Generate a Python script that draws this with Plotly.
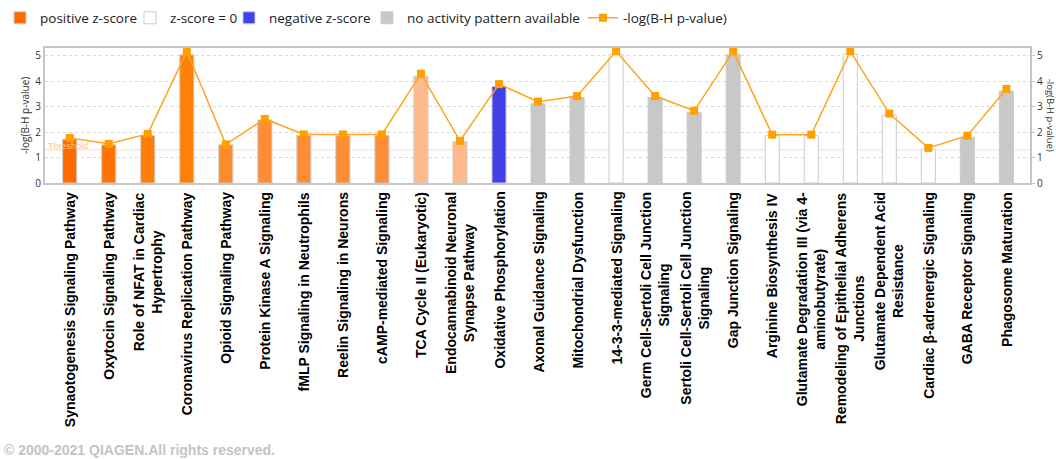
import plotly.graph_objects as go

# ---------------- data ----------------
pathways = [
    "Synaotogenesis Signaling Pathway",
    "Oxytocin Signaling Pathway",
    "Role of NFAT in Cardiac Hypertrophy",
    "Coronavirus Replication Pathway",
    "Opioid Signaling Pathway",
    "Protein Kinase A Signaling",
    "fMLP Signaling in Neutrophils",
    "Reelin Signaling in Neurons",
    "cAMP-mediated Signaling",
    "TCA Cycle II (Eukaryotic)",
    "Endocannabinoid Neuronal Synapse Pathway",
    "Oxidative Phosphorylation",
    "Axonal Guidance Signaling",
    "Mitochondrial Dysfunction",
    "14-3-3-mediated Signaling",
    "Germ Cell-Sertoli Cell Junction Signaling",
    "Sertoli Cell-Sertoli Cell Junction Signaling",
    "Gap Junction Signaling",
    "Arginine Biosynthesis IV",
    "Glutamate Degradation III (via 4-aminobutyrate)",
    "Remodeling of Epithelial Adherens Junctions",
    "Glutamate Dependent Acid Resistance",
    "Cardiac β-adrenergic Signaling",
    "GABA Receptor Signaling",
    "Phagosome Maturation",
]

tick_labels = [
    "Synaotogenesis Signaling Pathway",
    "Oxytocin Signaling Pathway",
    "Role of NFAT in Cardiac<br>Hypertrophy",
    "Coronavirus Replication Pathway",
    "Opioid Signaling Pathway",
    "Protein Kinase A Signaling",
    "fMLP Signaling in Neutrophils",
    "Reelin Signaling in Neurons",
    "cAMP-mediated Signaling",
    "TCA Cycle II (Eukaryotic)",
    "Endocannabinoid Neuronal<br>Synapse Pathway",
    "Oxidative Phosphorylation",
    "Axonal Guidance Signaling",
    "Mitochondrial Dysfunction",
    "14-3-3-mediated Signaling",
    "Germ Cell-Sertoli Cell Junction<br>Signaling",
    "Sertoli Cell-Sertoli Cell Junction<br>Signaling",
    "Gap Junction Signaling",
    "Arginine Biosynthesis IV",
    "Glutamate Degradation III (via 4-<br>aminobutyrate)",
    "Remodeling of Epithelial Adherens<br>Junctions",
    "Glutamate Dependent Acid<br>Resistance",
    "Cardiac β-adrenergic Signaling",
    "GABA Receptor Signaling",
    "Phagosome Maturation",
]

# bar heights: -log(B-H p-value)
bar_values = [1.72, 1.50, 1.87, 5.04, 1.50, 2.48, 1.87, 1.87, 1.87, 4.20, 1.62, 3.80,
              3.12, 3.36, 5.06, 3.36, 2.77, 5.06, 1.86, 1.86, 5.06, 2.67, 1.33, 1.80, 3.62]

# line markers: -log(B-H p-value)
line_values = [1.77, 1.54, 1.93, 5.18, 1.52, 2.52, 1.91, 1.91, 1.91, 4.30, 1.66, 3.89,
               3.20, 3.42, 5.18, 3.42, 2.84, 5.18, 1.90, 1.90, 5.18, 2.73, 1.38, 1.86, 3.70]

# activity category of each pathway
z_group = ["pos"] * 11 + ["neg"] + ["none", "none", "zero", "none", "none", "none",
                                     "zero", "zero", "zero", "zero", "zero", "none", "none"]

threshold = 1.3
y_ticks = [0, 1, 2, 3, 4, 5]

# ---------------- styles ----------------
pos_colors = ["#FF6A00", "#FF7300", "#FF7C08", "#FF7F08", "#FF8A2C", "#FF8C32",
              "#FF8C36", "#FF8C36", "#FF8C36", "#FFB98A", "#FFB98A"]
group_style = {
    "pos": ("positive z-score", pos_colors),
    "zero": ("z-score = 0", "#FFFFFF"),
    "neg": ("negative z-score", "#4141EC"),
    "none": ("no activity pattern available", "#C8C8C8"),
}
LINE_COLOR = "#FFA51F"
MARK_COLOR = "#FFA000"
LABEL_FONT = "Liberation Sans, Arial, sans-serif"
UI_FONT = "Open Sans, Noto Sans, sans-serif"

fig = go.Figure()

# legend x positions (container px) for separate legends
legend_x = [-9, 130, 229, 367, 583]
legend_names = ["legend", "legend2", "legend3", "legend4", "legend5"]

for i, g in enumerate(["pos", "zero", "neg", "none"]):
    name, col = group_style[g]
    xs = [p for p, gg in zip(pathways, z_group) if gg == g]
    ys = [v for v, gg in zip(bar_values, z_group) if gg == g]
    fig.add_trace(go.Bar(
        x=xs, y=ys, name=name,
        marker=dict(color=col, line=dict(color="#CBCBCB", width=1)),
        legend=legend_names[i],
        hoverinfo="x+y",
    ))

fig.add_trace(go.Scatter(
    x=pathways, y=line_values, name="-log(B-H p-value)",
    mode="lines+markers", yaxis="y2",
    line=dict(color=LINE_COLOR, width=1.5),
    marker=dict(symbol="square", size=8, color=MARK_COLOR),
    legend="legend5",
    cliponaxis=False,
))

# threshold reference line
fig.add_shape(type="line", xref="paper", x0=0, x1=1, yref="y", y0=threshold, y1=threshold,
              line=dict(color="rgba(255,170,110,0.45)", width=1), layer="below")
fig.add_annotation(text="Threshold", xref="paper", x=0, xanchor="left", xshift=1,
                   yref="y", y=threshold, yanchor="bottom", yshift=-3, showarrow=False,
                   font=dict(family=LABEL_FONT, size=9, color="#FFC48A"))

# category labels (rotated, centred multi-line)
for p, lab in zip(pathways, tick_labels):
    fig.add_annotation(text=lab, x=p, xref="x", y=0, yref="paper", yanchor="top",
                       xanchor="center", yshift=-7, textangle=-90, align="center",
                       showarrow=False,
                       font=dict(family=LABEL_FONT, size=14, color="#000000", weight="bold"))

# right axis title (reads top to bottom)
fig.add_annotation(text="-log(B-H p-value)", xref="paper", x=1, xanchor="left", xshift=12,
                   yref="paper", y=0.5, yanchor="middle", textangle=90, showarrow=False,
                   font=dict(family=UI_FONT, size=9.5, color="#333333"))

# copyright
fig.add_annotation(text="© 2000-2021 QIAGEN.All rights reserved.", xref="paper", x=0,
                   xanchor="left", xshift=-43, yref="paper", y=-1.97, yanchor="middle",
                   showarrow=False,
                   font=dict(family=LABEL_FONT, size=14, color="#C4C4C4", weight="bold"))

yr = [0, 5.33]
axis_line = "#C6C6C6"

legend_common = dict(orientation="h", xref="container", yref="container",
                     y=1 - 18 / 459, yanchor="middle", xanchor="left",
                     bgcolor="rgba(0,0,0,0)", borderwidth=0,
                     font=dict(family=UI_FONT, size=13.5, color="#222222"),
                     itemclick=False, itemdoubleclick=False)

layout_legends = {}
for ln, lx in zip(legend_names, legend_x):
    layout_legends[ln] = dict(legend_common, x=lx / 1056)

fig.update_layout(
    width=1056, height=459,
    margin=dict(l=45, r=26, t=40, b=275.5),
    paper_bgcolor="white", plot_bgcolor="white",
    barmode="overlay", bargap=0.64,
    showlegend=True,
    **layout_legends,
    xaxis=dict(
        type="category", categoryorder="array", categoryarray=pathways,
        range=[-0.633, 24.605], showticklabels=False, ticks="",
        showline=True, linecolor=axis_line, linewidth=2, mirror=True,
        showgrid=False, zeroline=False, fixedrange=True,
    ),
    yaxis=dict(
        range=yr, tickvals=y_ticks, ticks="", showline=True, linecolor=axis_line,
        linewidth=2, mirror=True, showgrid=True, gridcolor="#D9D9D9", griddash="dot",
        gridwidth=1, zeroline=False,
        tickfont=dict(family=UI_FONT, size=10, color="#333333"),
        title=dict(text="-log(B-H p-value)", standoff=4,
                   font=dict(family=UI_FONT, size=10, color="#333333")),
        fixedrange=True,
    ),
    yaxis2=dict(
        range=yr, tickvals=y_ticks, overlaying="y", side="right", ticks="outside",
        ticklen=4, tickcolor=axis_line, showline=False, showgrid=False, zeroline=False,
        tickfont=dict(family=UI_FONT, size=10, color="#333333"), fixedrange=True,
    ),
)

fig.write_html("out.html")
